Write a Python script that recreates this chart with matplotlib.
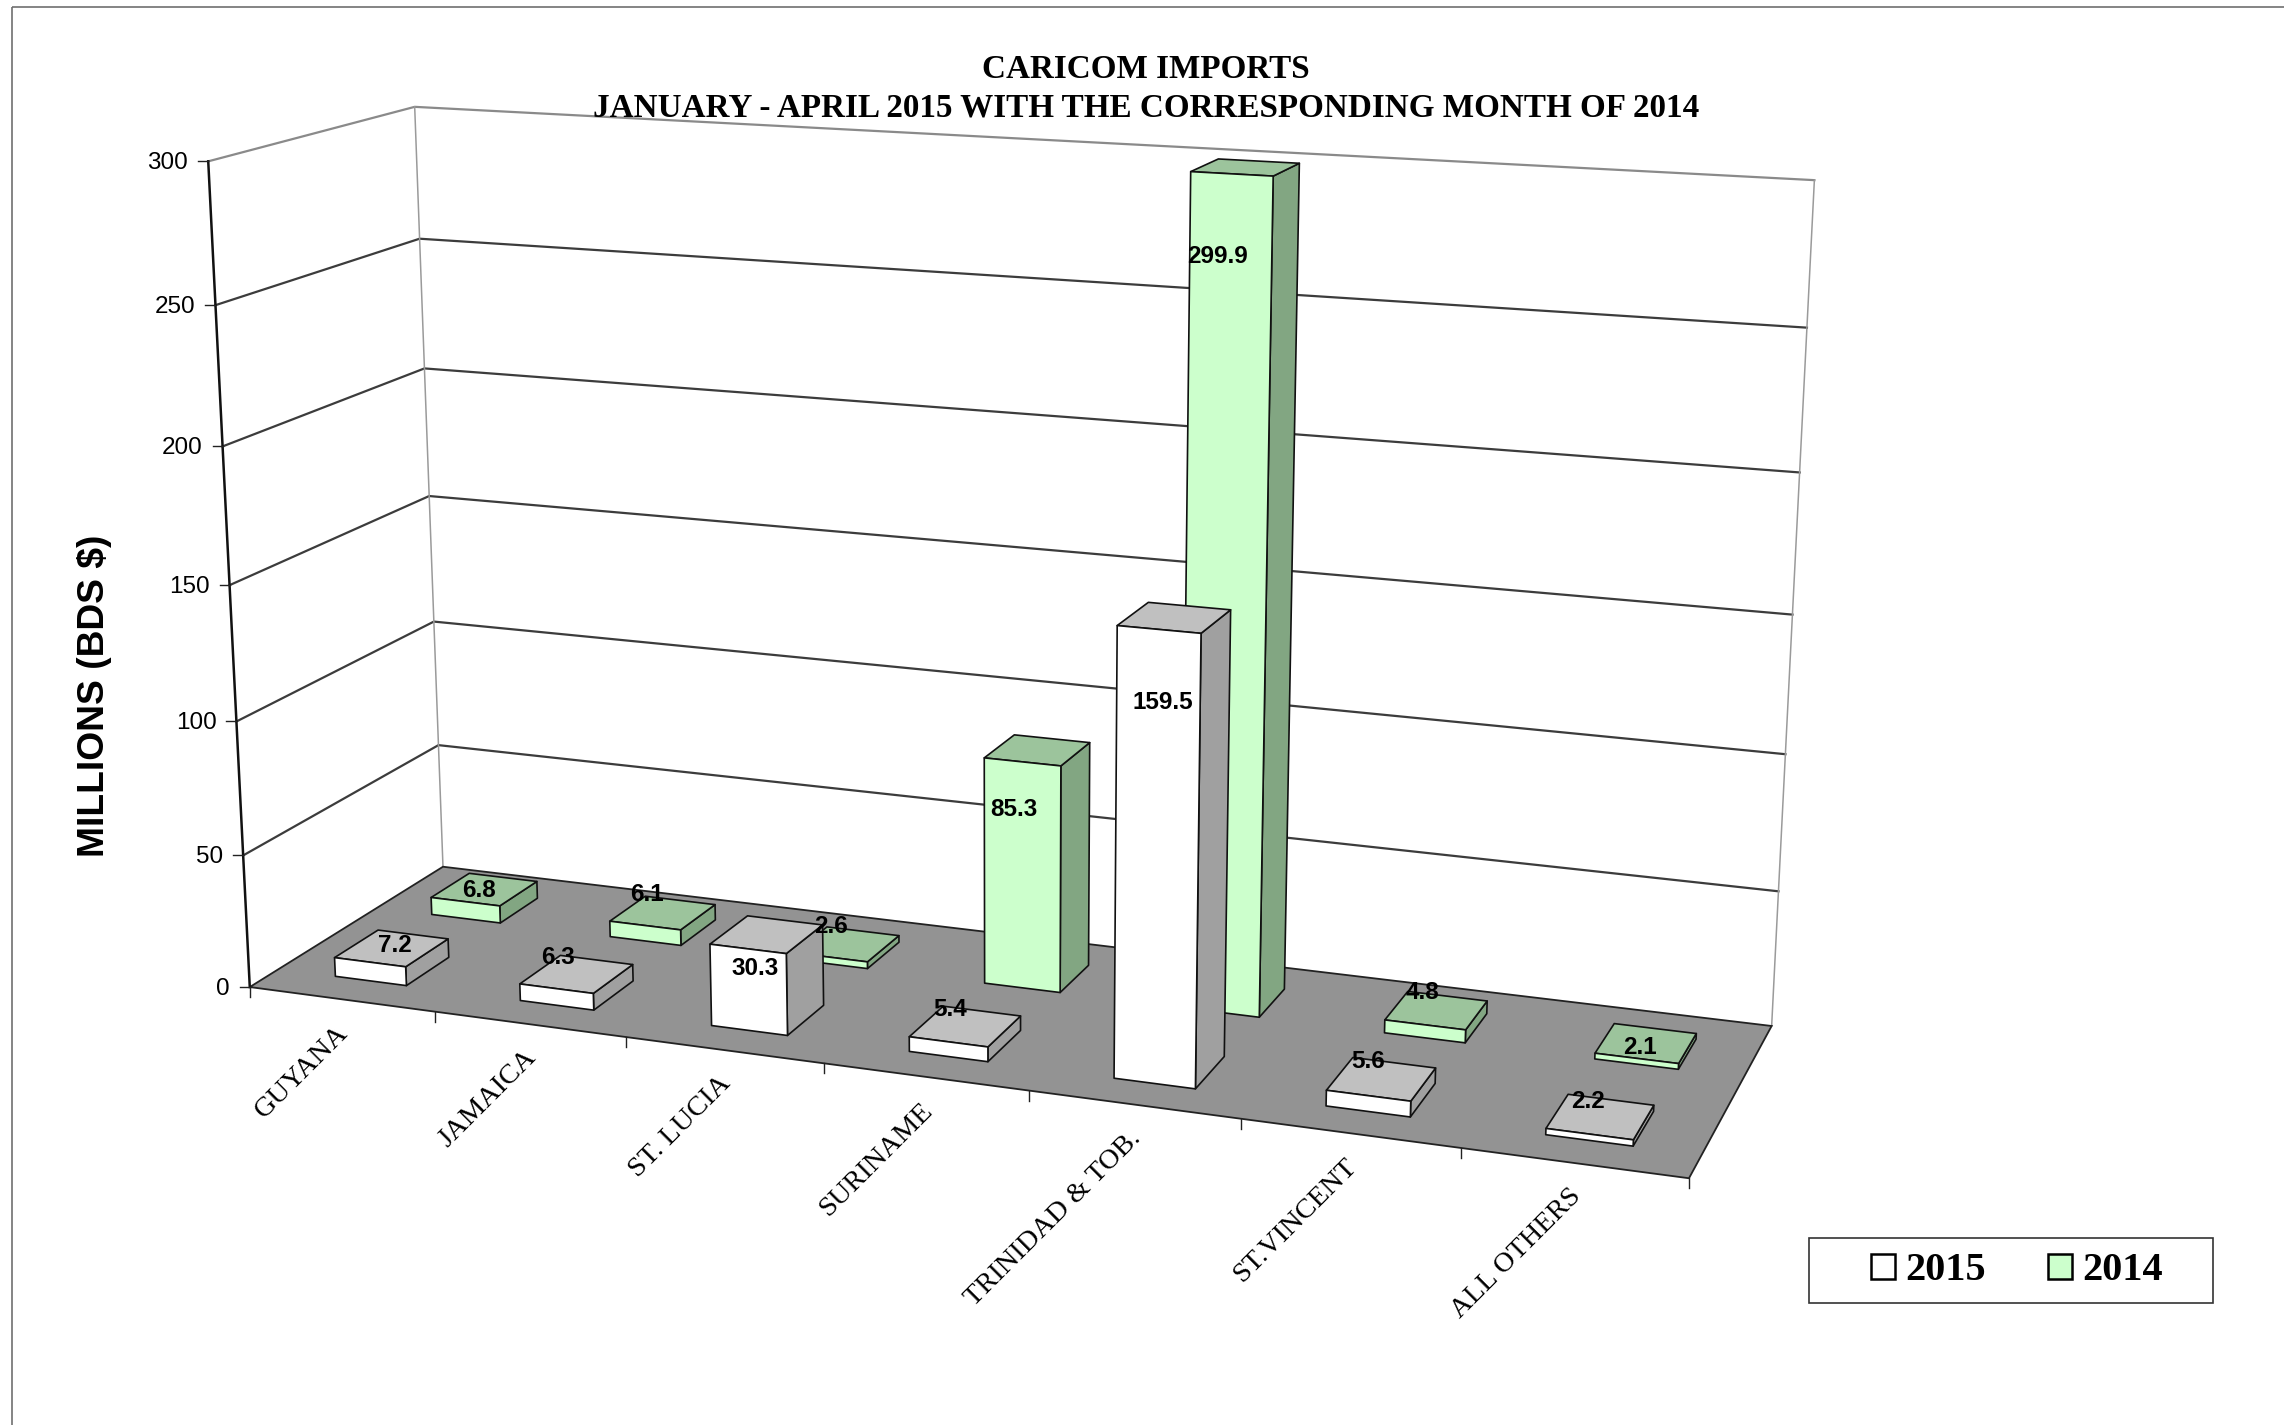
import numpy as np
import matplotlib
matplotlib.use("Agg")
import matplotlib.pyplot as plt
from matplotlib.patches import Polygon, Rectangle, Patch

categories = ["GUYANA", "JAMAICA", "ST. LUCIA", "SURINAME", "TRINIDAD & TOB.", "ST.VINCENT", "ALL OTHERS"]
values_2015 = [7.2, 6.3, 30.3, 5.4, 159.5, 5.6, 2.2]
values_2014 = [6.8, 6.1, 2.6, 85.3, 299.9, 4.8, 2.1]
y_ticks = [0, 50, 100, 150, 200, 250, 300]
Y_MAX = 300

# ---- layout (camera calibration and label placement, in output pixels) ----
W, H = 2284, 1425
CALIB = [
    ((0, 0, 0), (250.4, 986.7)), ((1, 0, 0), (1689, 1178)),
    ((0, 1, 0), (442.8, 867.3)), ((1, 1, 0), (1772, 1024)),
    ((0, 0, 1), (207.6, 162.3)), ((0, 1, 1), (414, 107.7)), ((1, 1, 1), (1815, 180.6)),
    ((1/7, 0, 0), (435, 1013)), ((2/7, 0, 0), (626, 1038)), ((3/7, 0, 0), (824, 1065)),
    ((4/7, 0, 0), (1029, 1091)), ((5/7, 0, 0), (1240, 1118)), ((6/7, 0, 0), (1460, 1149)),
    ((0, 0, 1/6), (243, 853.6)), ((0, 0, 2/6), (236, 721)), ((0, 0, 3/6), (230, 584)),
    ((0, 0, 4/6), (223, 446)), ((0, 0, 5/6), (216, 304)),
]
LABELS_2015_XY = [(395, 945), (558, 957), (755, 968), (950, 1009), (1163, 702), (1368, 1061), (1588, 1101)]
LABELS_2014_XY = [(479, 890), (647, 894), (831, 926), (1014, 809), (1218, 256), (1423, 992), (1640, 1048)]

A = []
b = []
for (u, v, w), (px, py) in CALIB:
    A.append([u, v, w, 1, 0, 0, 0, 0, -px*u, -px*v, -px*w])
    b.append(px)
    A.append([0, 0, 0, 0, u, v, w, 1, -py*u, -py*v, -py*w])
    b.append(py)
p = np.linalg.lstsq(np.array(A, float), np.array(b, float), rcond=None)[0]
P = np.append(p, 1.0).reshape(3, 4)


def project(cat, depth, value):
    """cat: category position (0..n), depth: 0 front..1 back, value: y axis value."""
    q = P @ np.array([cat / len(categories), depth, value / Y_MAX, 1.0])
    return q[0] / q[2], q[1] / q[2]


fig = plt.figure(figsize=(W / 100, H / 100), dpi=100, facecolor="white")
ax = fig.add_axes([0, 0, 1, 1])
ax.set_xlim(0, W)
ax.set_ylim(H, 0)
ax.set_axis_off()
SANS = "Liberation Sans"
SERIF = "Liberation Serif"
n = len(categories)

# outer chart frame
ax.add_patch(Rectangle((12, 7), W + 50, H + 50, fill=False, ec="#707070", lw=1.2, clip_on=True))

# walls and gridlines
for t in y_ticks:
    pts = [project(0, 0, t), project(0, 1, t), project(n, 1, t)]
    col = "#8a8a8a" if t == Y_MAX else "#3c3c3c"
    if t != 0:
        ax.plot(*zip(*pts), color=col, lw=1.6, zorder=2, solid_joinstyle="round")
for d, c in [(1, 0), (1, n)]:
    ax.plot(*zip(project(c, d, 0), project(c, d, Y_MAX)), color="#9a9a9a", lw=1.1, zorder=2)

# floor
ax.add_patch(Polygon([project(0, 0, 0), project(n, 0, 0), project(n, 1, 0), project(0, 1, 0)],
                     closed=True, fc="#939393", ec="#222222", lw=1.3, zorder=3))

# value axis
ax.plot(*zip(project(0, 0, 0), project(0, 0, Y_MAX)), color="#111111", lw=1.8, zorder=4)
for t in y_ticks:
    x, y = project(0, 0, t)
    ax.plot([x - 10, x], [y, y], color="#222222", lw=1.0, zorder=4)
    ax.text(x - 20, y + 2, str(t), ha="right", va="center", family=SANS, fontsize=17.5, color="black")

# category axis
for i in range(n + 1):
    x, y = project(i, 0, 0)
    ax.plot([x, x], [y, y + 10], color="#222222", lw=1.0, zorder=4)
for i, name in enumerate(categories):
    x, y = project(i + 0.5, 0, 0)
    ax.text(x + 3, y + 30, name, rotation=45, rotation_mode="anchor", ha="right", va="center",
            family=SERIF, fontsize=20.5, color="black", zorder=6)


def draw_bar(i, d0, d1, value, front, side, top, z):
    u0, u1 = i + 0.312, i + 0.7
    faces = [
        ([(u1, d0, 0), (u1, d1, 0), (u1, d1, value), (u1, d0, value)], side),
        ([(u0, d0, value), (u1, d0, value), (u1, d1, value), (u0, d1, value)], top),
        ([(u0, d0, 0), (u1, d0, 0), (u1, d0, value), (u0, d0, value)], front),
    ]
    for corners, col in faces:
        ax.add_patch(Polygon([project(*c) for c in corners], closed=True, fc=col, ec="#111111",
                             lw=1.2, joinstyle="round", zorder=z))


for i, v in enumerate(values_2014):
    draw_bar(i, 0.64, 0.85, v, "#CCFFCC", "#82A682", "#9CC49C", 5)
for i, v in enumerate(values_2015):
    draw_bar(i, 0.14, 0.36, v, "#FFFFFF", "#A0A0A0", "#C0C0C0", 5.5)

# data labels
for vals, xy in ((values_2015, LABELS_2015_XY), (values_2014, LABELS_2014_XY)):
    for v, (x, y) in zip(vals, xy):
        ax.text(x, y, f"{v:.1f}", ha="center", va="center", family=SANS, weight="bold",
                fontsize=17.5, color="black", zorder=8)

# titles
ax.text(1146, 69, "CARICOM IMPORTS", ha="center", va="center", family=SERIF, weight="bold",
        fontsize=23.9, color="black", zorder=8)
ax.text(1146, 108, "JANUARY - APRIL 2015 WITH THE CORRESPONDING MONTH OF 2014", ha="center", va="center",
        family=SERIF, weight="bold", fontsize=23.9, color="black", zorder=8)
ax.text(95, 696, "MILLIONS (BDS $)", rotation=90, ha="center", va="center", family=SANS, weight="bold",
        fontsize=26.7, color="black", zorder=8)

# legend
ax.add_patch(Rectangle((1809, 1238), 403.5, 65, fc="white", ec="#333333", lw=1.2, zorder=7))
handles = [Patch(fc="#FFFFFF", ec="black", lw=1.8, label="2015"),
           Patch(fc="#CCFFCC", ec="black", lw=1.8, label="2014")]
leg = ax.legend(handles=handles, ncol=2, loc="center", bbox_to_anchor=(2017, 1271), bbox_transform=ax.transData,
                frameon=False, handlelength=0.6, handleheight=0.6, handletextpad=0.25, columnspacing=1.55,
                borderpad=0, borderaxespad=0, prop={"family": SERIF, "weight": "bold", "size": 29})
leg.set_zorder(9)

fig.savefig("out.png", dpi=100, facecolor="white")
